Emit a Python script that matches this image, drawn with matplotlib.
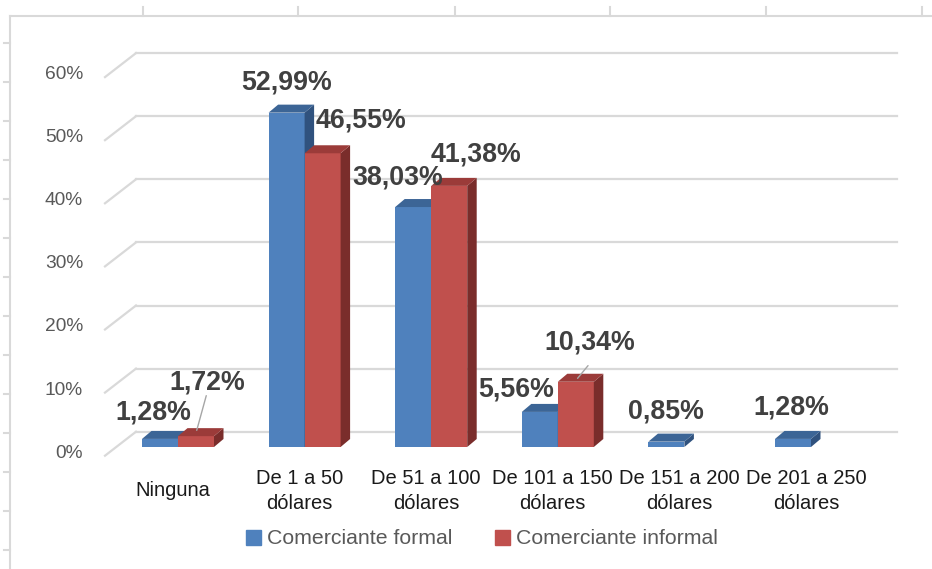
import matplotlib.pyplot as plt
from matplotlib.patches import Polygon, Patch
from matplotlib.lines import Line2D

categories = ["Ninguna", "De 1 a 50\ndólares", "De 51 a 100\ndólares",
              "De 101 a 150\ndólares", "De 151 a 200\ndólares", "De 201 a 250\ndólares"]
formal = [1.28, 52.99, 38.03, 5.56, 0.85, 1.28]
informal = [1.72, 46.55, 41.38, 10.34, 0.0, 0.0]
formal_labels = ["1,28%", "52,99%", "38,03%", "5,56%", "0,85%", "1,28%"]
informal_labels = ["1,72%", "46,55%", "41,38%", "10,34%", "", ""]
yticks = [0, 10, 20, 30, 40, 50, 60]
series_names = ["Comerciante formal", "Comerciante informal"]

# label offsets in pixels from bar top centre (Excel moved them by hand)
formal_off = [(-7, 26), (0, 30), (-15, 30), (-24, 22), (0, 30), (-2, 31)]
informal_off = [(11, 54), (38, 33), (27, 31), (14, 39), None, None]

W, H = 932, 569
PX_X = 126.6   # pixels per category
PX_Y = 6.31    # pixels per percent
X0, Y0 = 178, 447  # pixel of category 0 centre / 0% on bar front plane

fig = plt.figure(figsize=(W / 100, H / 100), dpi=100)
ax = fig.add_axes([0, 0, 1, 1])
ax.set_xlim(-X0 / PX_X, (W - X0) / PX_X)
ax.set_ylim((Y0 - H) / PX_Y, Y0 / PX_Y)
ax.axis("off")

grid_c = "#D9D9D9"
bw = 36 / PX_X
ddx, ddy = 9.5 / PX_X, 8 / PX_Y

# back wall and side wall gridlines
back_dy = 15.3 / PX_Y
xb0, xb1 = (136 - X0) / PX_X, (897 - X0) / PX_X
xf = (105 - X0) / PX_X
side_dy = 24 / PX_Y
for v in yticks:
    yb = v + back_dy
    ax.plot([xb0, xb1], [yb, yb], color=grid_c, lw=1.6, zorder=1)
    ax.plot([xf, xb0], [yb - side_dy, yb], color=grid_c, lw=1.6, zorder=1)
    ax.text((83 - X0) / PX_X, yb - side_dy + 0.4, f"{v}%", ha="right", va="center",
            fontsize=13.8, color="#595959", family="Liberation Sans")

def bar3d(x0, v, front, top, side):
    ax.bar(x0, v, width=bw, align="edge", color=front, zorder=3, lw=0)
    ax.add_patch(Polygon([(x0 + bw, 0), (x0 + bw, v), (x0 + bw + ddx, v + ddy), (x0 + bw + ddx, ddy)],
                         closed=True, color=side, lw=0, zorder=3))
    ax.add_patch(Polygon([(x0, v), (x0 + bw, v), (x0 + bw + ddx, v + ddy), (x0 + ddx, v + ddy)],
                         closed=True, color=top, lw=0, zorder=3))

lab_kw = dict(textcoords="offset pixels", ha="center", va="center", fontsize=19.3,
              fontweight="bold", color="#404040", family="Liberation Sans", zorder=6)

for i in range(len(categories)):
    xb = i - bw
    bar3d(xb, formal[i], "#4F81BD", "#3C6596", "#30527E")
    if informal[i] > 0:
        bar3d(i, informal[i], "#C0504D", "#9B3B39", "#7A2D2B")

for i in range(len(categories)):
    ax.annotate(formal_labels[i], (i - bw / 2, formal[i]), xytext=formal_off[i], **lab_kw)
    if informal_labels[i]:
        ax.annotate(informal_labels[i], (i + bw / 2, informal[i]), xytext=informal_off[i], **lab_kw)
    ax.text(i - 5 / PX_X, (Y0 - 491) / PX_Y, categories[i], ha="center", va="center",
            fontsize=14.5, color="#1A1A1A", family="Liberation Sans", linespacing=1.45)

# leader lines for moved labels
ax.annotate("", (0 + bw / 2, informal[0] + 0.5), xytext=(11, 40), textcoords="offset pixels",
            arrowprops=dict(arrowstyle="-", color="#A6A6A6", lw=1))
ax.annotate("", (3 + bw / 2, informal[3] + 0.2), xytext=(14, 17), textcoords="offset pixels",
            arrowprops=dict(arrowstyle="-", color="#A6A6A6", lw=1))

handles = [Patch(color="#4F81BD"), Patch(color="#C0504D")]
fig.legend(handles, series_names, ncol=2, loc="center", bbox_to_anchor=(482 / W, 1 - 539 / H),
           frameon=False, handlelength=0.7, handleheight=0.7, handletextpad=0.3,
           columnspacing=2.0, prop={"family": "Liberation Sans", "size": 15.3},
           labelcolor="#595959")

# spreadsheet frame around the chart
fig.add_artist(Line2D([10 / W, 1], [1 - 15.5 / H, 1 - 15.5 / H], color=grid_c, lw=1.5))
fig.add_artist(Line2D([10 / W, 10 / W], [0, 1 - 15.5 / H], color=grid_c, lw=1.5))
for px in [143, 298, 455, 610, 766, 922]:
    fig.add_artist(Line2D([px / W, px / W], [1 - 7 / H, 1 - 15.5 / H], color=grid_c, lw=1.5))
py = 42.7
while py < H:
    fig.add_artist(Line2D([4 / W, 10 / W], [1 - py / H, 1 - py / H], color=grid_c, lw=1.5))
    py += 39

fig.savefig("out.png", dpi=100)
